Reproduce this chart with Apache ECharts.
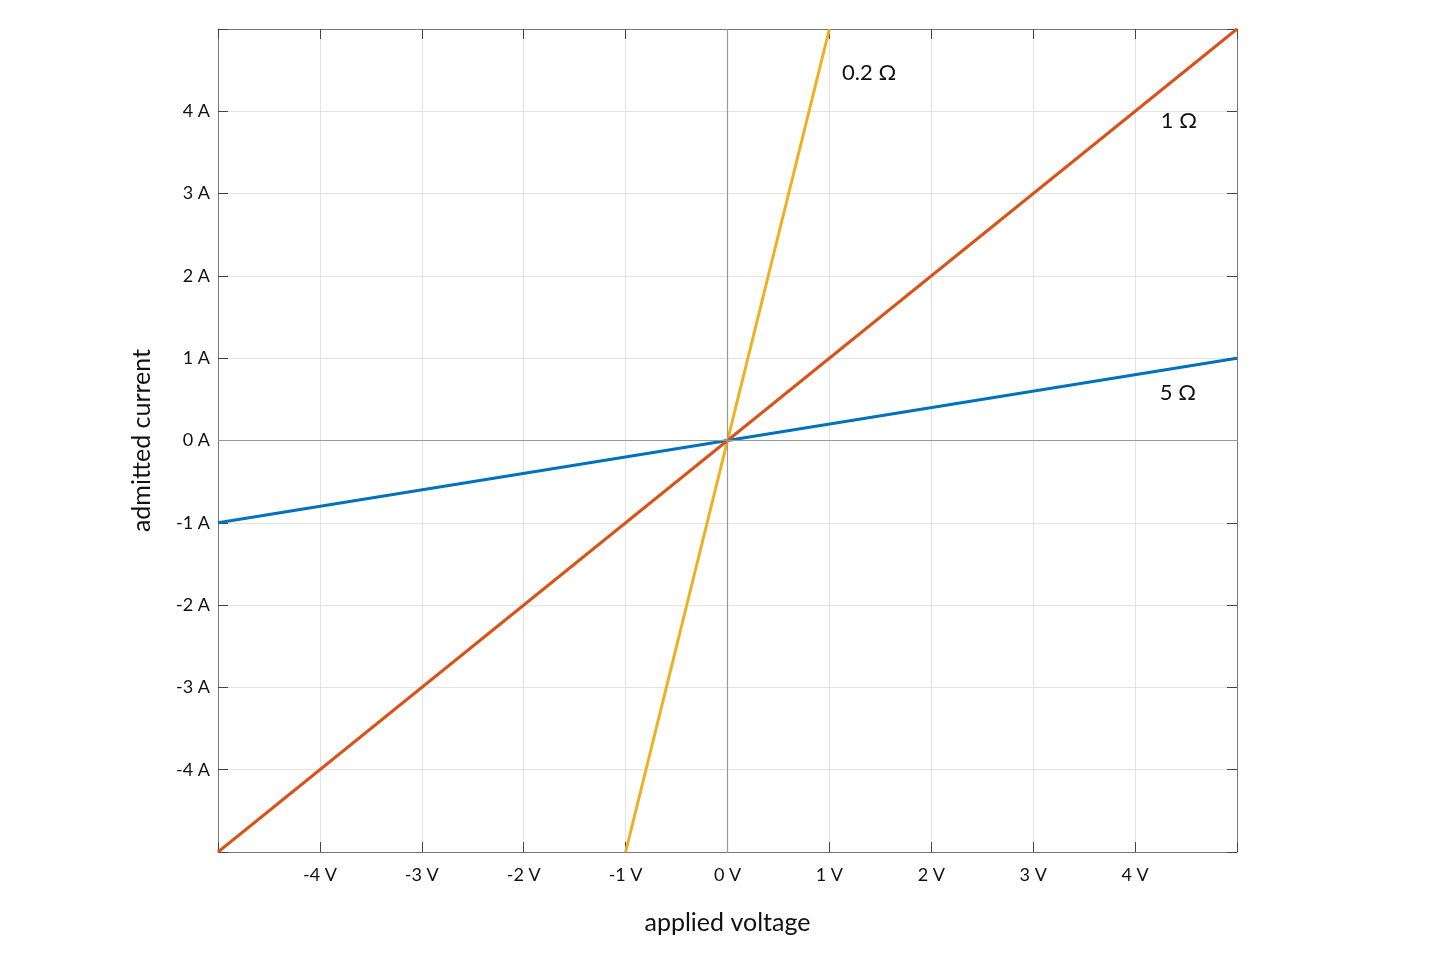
<!DOCTYPE html>
<html><head><meta charset="utf-8">
<script src="https://cdn.jsdelivr.net/npm/echarts@6/dist/echarts.min.js"></script>
<style>html,body{margin:0;padding:0;background:#fff}#c{width:1456px;height:970px}</style>
</head><body><div id="c"></div>
<script>
const voltsWide = [-5, 5];
const voltsNarrow = [-1, 1];
const current5 = [-1, 1];
const current1 = [-5, 5];
const current02 = [-5, 5];
const seriesNames = ['5 Ω', '1 Ω', '0.2 Ω'];
const seriesColors = ['#0072BD', '#D95319', '#EDB120'];
const labelPos = [[4.42, 0.58], [4.43, 3.88], [1.39, 4.47]];
const tickVals = [-4, -3, -2, -1, 0, 1, 2, 3, 4];

const font = 'Lato, "Noto Sans", sans-serif';
const chart = echarts.init(document.getElementById('c'));
const pairs = (xs, ys) => xs.map((x, i) => [x, ys[i]]);
const lineData = [pairs(voltsWide, current5), pairs(voltsWide, current1), pairs(voltsNarrow, current02)];

function axisCommon(show) {
  return {
    type: 'value', min: -5, max: 5, interval: 1,
    axisLine: {show: true, onZero: false, lineStyle: {color: '#777', width: 1}},
    axisTick: {show: true, inside: true, length: 10, lineStyle: {color: '#444', width: 1}},
    splitLine: {show: show, lineStyle: {color: '#e3e3e3', width: 1}}
  };
}
const series = lineData.map((d, i) => ({
  type: 'line', name: seriesNames[i], data: d, showSymbol: false, symbol: 'none',
  lineStyle: {color: seriesColors[i], width: 3}, z: 3 + (i === 2 ? 0 : i),
  markPoint: {
    symbol: 'circle', symbolSize: 0, silent: true,
    data: [{coord: labelPos[i], value: seriesNames[i]}],
    label: {show: true, position: 'inside', formatter: seriesNames[i], color: '#111', fontSize: 22, fontFamily: font}
  }
}));
series.unshift({
  type: 'line', data: [], silent: true, z: 1,
  markLine: {
    symbol: 'none', silent: true, label: {show: false},
    lineStyle: {color: '#999', width: 1.2, type: 'solid'},
    data: [{xAxis: 0}, {yAxis: 0}]
  }
});
chart.setOption({
  animation: false,
  grid: {left: 218, right: 219, top: 29, bottom: 118, containLabel: false},
  xAxis: [
    Object.assign(axisCommon(true), {
      position: 'bottom',
      name: 'applied voltage', nameLocation: 'middle', nameGap: 58,
      nameTextStyle: {fontSize: 25, color: '#111', fontFamily: font},
      axisLabel: {margin: 14, fontSize: 18, color: '#111', fontFamily: font,
        formatter: v => tickVals.includes(v) ? v + ' V' : ''}
    }),
    Object.assign(axisCommon(false), {position: 'top', axisLabel: {show: false}})
  ],
  yAxis: [
    Object.assign(axisCommon(true), {
      position: 'left',
      name: 'admitted current', nameLocation: 'middle', nameGap: 64,
      nameTextStyle: {fontSize: 25, color: '#111', fontFamily: font},
      axisLabel: {margin: 8, fontSize: 18, color: '#111', fontFamily: font,
        formatter: v => tickVals.includes(v) ? v + ' A' : ''}
    }),
    Object.assign(axisCommon(false), {position: 'right', axisLabel: {show: false}})
  ],
  series: series
});
</script></body></html>
